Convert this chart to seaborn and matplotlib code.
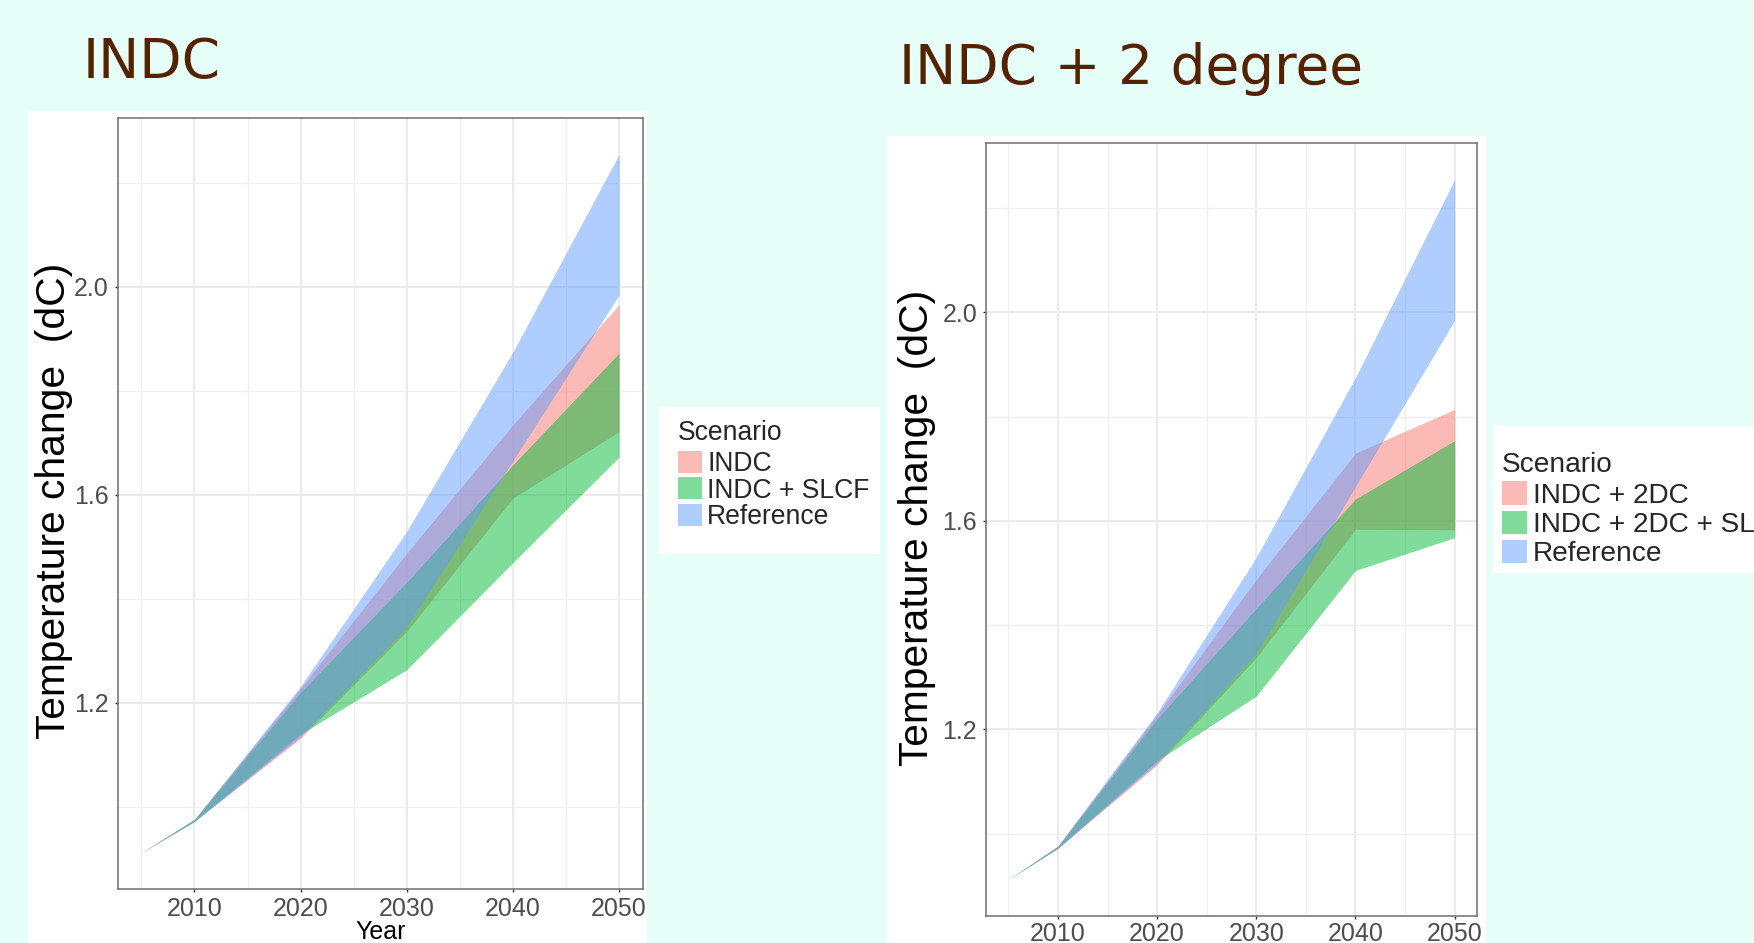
import numpy as np
import pandas as pd
import matplotlib
matplotlib.use("Agg")
import matplotlib.pyplot as plt
import seaborn as sns
from matplotlib.patches import Rectangle, Patch
from matplotlib.ticker import MultipleLocator

# ---------------- data ----------------
years = [2005, 2010, 2020, 2030, 2040, 2050]

# Reference scenario (identical in both panels)
ref_lo = [0.912, 0.972, 1.135, 1.346, 1.666, 1.985]
ref_hi = [0.912, 0.976, 1.232, 1.530, 1.875, 2.255]

# Left panel: INDC
indc_lo = [0.912, 0.972, 1.132, 1.338, 1.594, 1.722]
indc_hi = [0.912, 0.976, 1.228, 1.488, 1.735, 1.966]
slcf_lo = [0.912, 0.972, 1.140, 1.264, 1.470, 1.673]
slcf_hi = [0.912, 0.976, 1.220, 1.432, 1.658, 1.873]

# Right panel: INDC + 2 degree
dc_lo = [0.912, 0.972, 1.132, 1.338, 1.584, 1.583]
dc_hi = [0.912, 0.976, 1.228, 1.488, 1.730, 1.814]
dcs_lo = [0.912, 0.972, 1.140, 1.264, 1.505, 1.568]
dcs_hi = [0.912, 0.976, 1.220, 1.432, 1.642, 1.754]

left_names = ["INDC", "INDC + SLCF", "Reference"]
right_names = ["INDC + 2DC", "INDC + 2DC + SLCF", "Reference"]
colors = ["#F8766D", "#00BA38", "#619CFF"]

# ---------------- helpers ----------------
W, H = 1754, 943
BG = "#E6FFF8"


def fx(x):
    return x / W


def fy(y):
    return 1 - y / H


def long_df(names, los, his):
    rows = []
    for name, lo, hi in zip(names, los, his):
        for yr, a, b in zip(years, lo, hi):
            rows.append((name, yr, a))
            rows.append((name, yr, b))
    return pd.DataFrame(rows, columns=["Scenario", "Year", "Temp"])


sns.set_style("white")
plt.rcParams["font.family"] = ["Liberation Sans", "DejaVu Sans"]

fig = plt.figure(figsize=(W / 100, H / 100), dpi=100, facecolor=BG)


def white_box(x0, y0, x1, y1):
    fig.add_artist(Rectangle((fx(x0), fy(y1)), (x1 - x0) / W, (y1 - y0) / H,
                             transform=fig.transFigure, facecolor="white",
                             edgecolor="none", zorder=-1))


# white plot backgrounds and legend backgrounds
white_box(28, 111, 647, 943)
white_box(887, 136, 1486, 943)
white_box(659, 407, 880, 554)
white_box(1493, 426, 1770, 573)


def make_panel(rect, names, los, his, ylab_x, ylab_y, xlabel, xpad):
    ax = fig.add_axes(rect)
    df = long_df(names, los, his)
    sns.lineplot(data=df, x="Year", y="Temp", hue="Scenario", hue_order=names,
                 palette=colors, estimator="mean", errorbar=("pi", 100),
                 err_kws=dict(alpha=0.5, linewidth=0), linewidth=0,
                 legend=False, ax=ax)
    ax.set_facecolor("white")
    ax.set_xlim(2002.75, 2052.25)
    ax.set_ylim(0.842, 2.325)
    ax.xaxis.set_major_locator(MultipleLocator(10))
    ax.xaxis.set_minor_locator(MultipleLocator(5))
    ax.yaxis.set_major_locator(MultipleLocator(0.4))
    ax.yaxis.set_minor_locator(MultipleLocator(0.2))
    ax.grid(which="major", color="#EBEBEB", lw=1.4)
    ax.grid(which="minor", color="#EFEFEF", lw=0.9)
    ax.set_axisbelow(True)
    ax.tick_params(axis="both", which="major", labelsize=18,
                   labelcolor="#4D4D4D", length=2.5, width=1,
                   color="#333333", bottom=True, left=True)
    ax.tick_params(axis="x", which="major", pad=xpad)
    ax.tick_params(axis="y", which="major", pad=3.8)
    ax.tick_params(axis="both", which="minor", length=0)
    for s in ax.spines.values():
        s.set_visible(True)
        s.set_color("#6E6E6E")
        s.set_linewidth(1.1)
    if xlabel:
        ax.set_xlabel(xlabel, fontsize=18, color="black")
        ax.xaxis.set_label_coords(0.5, -0.040)
        ax.xaxis.label.set_va("top")
    else:
        ax.set_xlabel("")
    ax.set_ylabel("Temperature change  (dC)", fontsize=29.3, color="black")
    ax.yaxis.set_label_coords(ylab_x, ylab_y)
    return ax


axL = make_panel([fx(117.5), fy(889), (643 - 117.5) / W, (889 - 118) / H],
                 left_names, [indc_lo, slcf_lo, ref_lo],
                 [indc_hi, slcf_hi, ref_hi], -0.0847, 0.503, "Year", 3.0)
axR = make_panel([fx(986), fy(916), (1477 - 986) / W, (916 - 143) / H],
                 right_names, [dc_lo, dcs_lo, ref_lo],
                 [dc_hi, dcs_hi, ref_hi], -0.102, 0.502, None, 2.0)

# titles
title_kw = dict(family="DejaVu Sans", fontsize=39.6, color="#552200",
                va="baseline", ha="left")
fig.text(fx(83), fy(78), "INDC", **title_kw)
fig.text(fx(899), fy(84), "INDC + 2 degree", **title_kw)


# legends
def add_legend(names, anchor, fs, hh, ls, title_sep):
    handles = [Patch(facecolor=c, alpha=0.5, edgecolor="none") for c in colors]
    leg = fig.legend(handles, names, loc="upper left", bbox_to_anchor=anchor,
                     bbox_transform=fig.transFigure, frameon=False,
                     fontsize=fs, title="Scenario", title_fontsize=fs,
                     alignment="left", handlelength=hh, handleheight=hh,
                     handletextpad=0.2, labelspacing=ls, borderpad=0,
                     borderaxespad=0)
    leg._legend_box.sep = title_sep
    return leg


add_legend(left_names, (fx(678), fy(420.4)), 19.1, 0.90, 0.013, 3.2)
add_legend(right_names, (fx(1502), fy(452)), 20.2, 0.89, 0.068, 2.5)

fig.savefig("out.png", dpi=100, facecolor=fig.get_facecolor())
